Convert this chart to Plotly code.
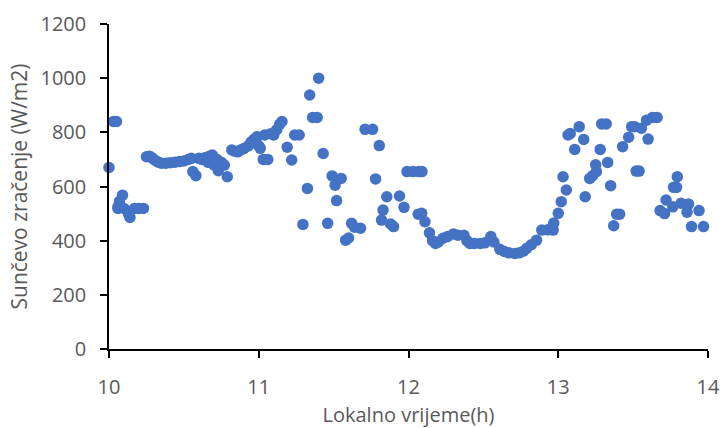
import plotly.graph_objects as go

# Local time (h) and solar irradiance (W/m2)
time_h = [
    10.00, 10.03, 10.05, 10.09, 10.06, 10.07, 10.06, 10.10, 10.14, 10.13, 10.17, 10.20, 10.23,
    10.25, 10.27, 10.29, 10.31, 10.33, 10.35, 10.38, 10.41, 10.44, 10.47, 10.50, 10.53, 10.55,
    10.56, 10.58, 10.60, 10.62, 10.64, 10.66, 10.67, 10.69, 10.70, 10.72, 10.73, 10.75, 10.77,
    10.79, 10.82, 10.84, 10.86, 10.88, 10.90, 10.93, 10.95, 10.97, 10.99, 11.00, 11.01, 11.03,
    11.06, 11.04, 11.08, 11.10, 11.12, 11.14, 11.155, 11.19, 11.22, 11.24, 11.27, 11.295, 11.325,
    11.34, 11.40, 11.36, 11.39, 11.43, 11.46, 11.49, 11.51, 11.55, 11.52, 11.62, 11.58, 11.60,
    11.64, 11.68, 11.71, 11.76, 11.805, 11.78, 11.855, 11.83, 11.82, 11.90, 11.88, 11.94, 11.97,
    11.99, 12.03, 12.07, 12.09, 12.065, 12.088, 12.11, 12.14, 12.16, 12.18, 12.20, 12.23, 12.26,
    12.30, 12.33, 12.37, 12.39, 12.41, 12.44, 12.48, 12.51, 12.55, 12.57, 12.61, 12.64, 12.67,
    12.71, 12.74, 12.77, 12.79, 12.82, 12.855, 12.89, 12.93, 12.966, 12.97, 13.00, 13.02, 13.054,
    13.032, 13.065, 13.08, 13.11, 13.14, 13.17, 13.18, 13.21, 13.23, 13.255, 13.25, 13.28, 13.29,
    13.32, 13.33, 13.35, 13.37, 13.39, 13.41, 13.43, 13.47, 13.49, 13.51, 13.52, 13.54, 13.555,
    13.59, 13.60, 13.63, 13.66, 13.68, 13.72, 13.71, 13.765, 13.77, 13.79, 13.795, 13.82, 13.87,
    13.86, 13.94, 13.89, 13.97,
]
irradiance = [
    670, 840, 840, 568, 525, 545, 519, 519, 486, 500, 519, 519, 519,
    710, 712, 705, 696, 690, 686, 686, 688, 690, 692, 694, 700, 704,
    655, 640, 704, 700, 706, 690, 712, 716, 680, 700, 658, 690, 679,
    636, 735, 730, 728, 735, 740, 750, 765, 775, 784, 750, 741, 700,
    700, 790, 795, 790, 810, 830, 840, 745, 698, 790, 790, 460, 593,
    938, 1000, 855, 855, 722, 464, 639, 605, 630, 548, 464, 402, 410,
    450, 446, 811, 811, 751, 628, 562, 513, 476, 452, 462, 565, 523,
    655, 655, 655, 655, 498, 501, 470, 429, 400, 390, 395, 409, 415,
    425, 420, 420, 400, 390, 390, 390, 392, 415, 395, 368, 360, 355,
    353, 355, 362, 372, 385, 402, 439, 440, 439, 465, 501, 544, 587,
    636, 790, 796, 737, 821, 774, 562, 630, 640, 655, 680, 737, 831,
    831, 689, 603, 455, 498, 498, 747, 782, 821, 821, 657, 657, 815,
    845, 775, 855, 855, 511, 550, 500, 525, 597, 597, 636, 538, 535,
    505, 511, 452, 452,
]

x_ticks = [10, 11, 12, 13, 14]
y_ticks = [0, 200, 400, 600, 800, 1000, 1200]

x_title = "Lokalno vrijeme(h)"
y_title = "Sunčevo zračenje (W/m2)"

fig = go.Figure(
    go.Scatter(
        x=time_h,
        y=irradiance,
        mode="markers",
        marker=dict(color="#4472C4", size=11.5, line=dict(width=0)),
        cliponaxis=False,
        hoverinfo="x+y",
    )
)

font_family = "Open Sans, Liberation Sans, sans-serif"
text_font = dict(family=font_family, size=20, color="#595959")

fig.update_layout(
    width=721,
    height=428,
    margin=dict(l=108.5, r=12.5, t=24, b=79),
    paper_bgcolor="white",
    plot_bgcolor="white",
    showlegend=False,
    font=dict(family=font_family, color="#595959"),
    xaxis=dict(
        range=[10, 14],
        tickvals=x_ticks,
        ticktext=[str(v) for v in x_ticks],
        showgrid=False,
        zeroline=False,
        showline=True,
        linecolor="#000000",
        linewidth=1.5,
        ticks="outside",
        ticklen=7,
        tickwidth=1.5,
        tickcolor="#000000",
        tickfont=text_font,
        ticklabelstandoff=12,
        automargin=False,
        title=dict(text=x_title, font=text_font, standoff=12),
    ),
    yaxis=dict(
        range=[0, 1200],
        tickvals=y_ticks,
        ticktext=[str(v) for v in y_ticks],
        showgrid=False,
        zeroline=False,
        showline=True,
        linecolor="#000000",
        linewidth=1.5,
        ticks="outside",
        ticklen=7,
        tickwidth=1.5,
        tickcolor="#000000",
        tickfont=text_font,
        ticklabelstandoff=10,
        automargin=False,
        title=dict(text=y_title, font=dict(family=font_family, size=21, color="#595959"), standoff=7),
    ),
)

fig.write_html(
    "out.html",
    config={"displayModeBar": False},
    post_script="document.body.style.margin='0';document.body.style.overflow='hidden';",
)
